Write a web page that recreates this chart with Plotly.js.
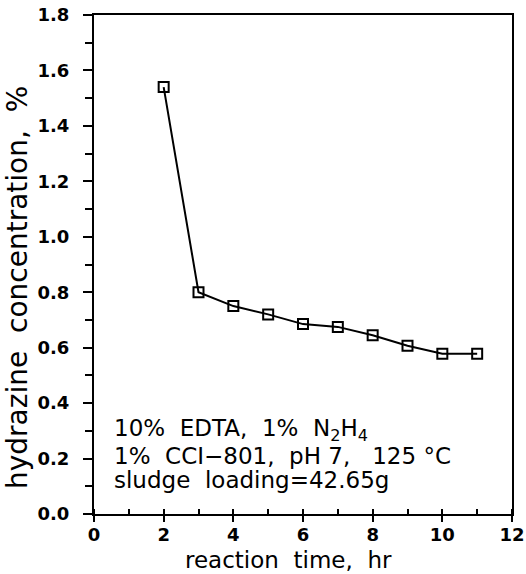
<!DOCTYPE html>
<html><head><meta charset="utf-8">
<script src="https://cdn.plot.ly/plotly-3.0.1.min.js"></script>
<style>body{margin:0;background:#fff}#c{width:526px;height:574px}</style>
</head><body><div id="c"></div>
<script>
const timeHr = [2, 3, 4, 5, 6, 7, 8, 9, 10, 11];
const hydrazinePct = [1.54, 0.80, 0.75, 0.72, 0.685, 0.675, 0.645, 0.607, 0.578, 0.578];
const noteLines = [
  "10%  EDTA,  1%  N<sub>2</sub>H<sub>4</sub>",
  "1%  CCI\u2212801,  pH 7,   125 \u00b0C",
  "sludge  loading=42.65g"
];
const xTitle = "reaction  time,  hr";
const yTitle = "hydrazine  concentration,  %";

const font = "DejaVu Sans, Verdana, sans-serif";
const L = 94, R = 14, T = 15, B = 60, W = 526, H = 574;
const pw = W - L - R, ph = H - T - B;
const px = v => (v - L) / pw;
const py = v => (H - B - v) / ph;

const trace = {
  x: timeHr, y: hydrazinePct, type: "scatter", mode: "lines+markers",
  line: {color: "#000", width: 2},
  marker: {symbol: "square-open", size: 10, color: "#000", line: {width: 2, color: "#000"}},
  showlegend: false
};
const annotations = noteLines.map((t, i) => ({
  xref: "paper", yref: "paper", x: px(113), y: py([430, 456, 480][i]),
  xanchor: "left", yanchor: "middle", align: "left", showarrow: false, borderpad: 0,
  text: t, font: {family: font, size: 23, color: "#000"}
}));
annotations.push({
  xref: "paper", yref: "paper", x: px(288), y: py(560), xanchor: "center", yanchor: "middle",
  borderpad: 0, showarrow: false, text: xTitle, font: {family: font, size: 23, color: "#000"}
});
annotations.push({
  xref: "paper", yref: "paper", x: px(17), y: py(288), xanchor: "center", yanchor: "middle",
  borderpad: 0, textangle: -90, showarrow: false, text: yTitle, font: {family: font, size: 28, color: "#000"}
});
const layout = {
  width: W, height: H,
  margin: {l: L, r: R, t: T, b: B},
  paper_bgcolor: "#fff", plot_bgcolor: "#fff",
  font: {family: font, color: "#000"},
  xaxis: {
    range: [0, 12], dtick: 2, tick0: 0, showgrid: false, zeroline: false, automargin: false,
    showline: true, linecolor: "#000", linewidth: 2, mirror: true,
    ticks: "outside", ticklen: 6, tickwidth: 2, tickcolor: "#000", ticklabelstandoff: -3,
    minor: {dtick: 1, ticks: "inside", ticklen: 5, tickwidth: 2, tickcolor: "#000"},
    tickfont: {family: font, size: 18, color: "#000", weight: "bold"}
  },
  yaxis: {
    range: [0, 1.8], dtick: 0.2, tick0: 0, tickformat: ".1f", showgrid: false, zeroline: false, automargin: false,
    showline: true, linecolor: "#000", linewidth: 2, mirror: true,
    ticks: "outside", ticklen: 9, tickwidth: 2, tickcolor: "#000", ticklabelstandoff: 10,
    minor: {dtick: 0.1, ticks: "outside", ticklen: 7, tickwidth: 2, tickcolor: "#000"},
    tickfont: {family: font, size: 18, color: "#000", weight: "bold"}
  },
  annotations: annotations
};
Plotly.newPlot("c", [trace], layout, {displayModeBar: false, staticPlot: true});
</script></body></html>
